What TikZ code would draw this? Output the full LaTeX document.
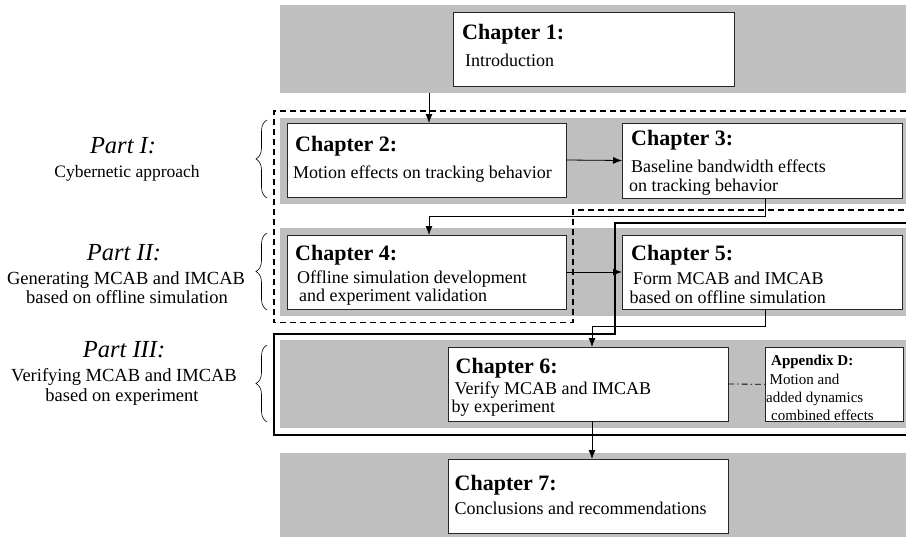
\documentclass[tikz,border=0pt]{standalone}
\usepackage{fontspec}
\setmainfont{Liberation Serif}
\usetikzlibrary{arrows.meta,decorations.pathreplacing,calc}
\definecolor{bandgray}{RGB}{191,191,191}
\begin{document}
\begin{tikzpicture}[x=1pt,y=-1pt,
  band/.style={fill=bandgray, draw=none, anchor=north west, inner sep=0pt, outer sep=0pt},
  chap/.style={draw=black!85, line width=0.9pt, fill=white, anchor=north west, inner sep=0pt, outer sep=0pt},
  head/.style={anchor=base west, inner sep=0pt, font=\fontsize{22}{24}\selectfont\bfseries},
  body/.style={anchor=base west, inner sep=0pt, font=\fontsize{18}{20}\selectfont},
  apphead/.style={anchor=base west, inner sep=0pt, font=\fontsize{15}{17}\selectfont\bfseries},
  appbody/.style={anchor=base west, inner sep=0pt, font=\fontsize{15}{17}\selectfont},
  parttitle/.style={anchor=base, inner sep=0pt, font=\fontsize{24.5}{26}\selectfont\itshape},
  partbody/.style={anchor=base, inner sep=0pt, font=\fontsize{18.5}{20}\selectfont},
  partsmall/.style={anchor=base, inner sep=0pt, font=\fontsize{17.5}{19}\selectfont},
  arr/.style={line width=0.8pt, -{Latex[length=9pt,width=7pt]}},
  dashregion/.style={line width=1.2pt, dash pattern=on 6pt off 4pt},
  thickregion/.style={line width=2pt},
  dashdotline/.style={line width=0.8pt, dash pattern=on 6pt off 3pt on 1.5pt off 3pt},
  bracestyle/.style={line width=0.6pt, decorate, decoration={brace, amplitude=11pt}}
]
\useasboundingbox (0,0) rectangle (906,541);

% bands
\node[band, minimum width=626pt, minimum height=87.7pt] (band1) at (280,5) {};
\node[band, minimum width=626pt, minimum height=86pt] (band2) at (280,118) {};
\node[band, minimum width=626pt, minimum height=88pt] (band3) at (280,228) {};
\node[band, minimum width=626pt, minimum height=88pt] (band4) at (280,340) {};
\node[band, minimum width=626pt, minimum height=84pt] (band5) at (280,453) {};

% region outlines
\coordinate (dA) at (906,111);
\coordinate (dB) at (274,111);
\coordinate (dC) at (274,322.7);
\coordinate (dD) at (573,322.7);
\coordinate (dE) at (573,210);
\coordinate (dF) at (906,210);
\draw[dashregion] (dA) -- (dB) -- (dC) -- (dD) -- (dE) -- (dF);
\coordinate (kA) at (906,222.7);
\coordinate (kB) at (615,222.7);
\coordinate (kC) at (615,334.3);
\coordinate (kD) at (274,334.3);
\coordinate (kE) at (274,435);
\coordinate (kF) at (906,435);
\draw[thickregion] (kA) -- (kB) -- (kC) -- (kD) -- (kE) -- (kF);

% chapter boxes
\node[chap, minimum width=281pt, minimum height=74pt] (ch1) at (453,12) {};
\node[chap, minimum width=279pt, minimum height=74pt] (ch2) at (287,123) {};
\node[chap, minimum width=280pt, minimum height=75pt] (ch3) at (622,123) {};
\node[chap, minimum width=279pt, minimum height=74pt] (ch4) at (287,235) {};
\node[chap, minimum width=280pt, minimum height=74pt] (ch5) at (622,235) {};
\node[chap, minimum width=280pt, minimum height=74pt] (ch6) at (448,347) {};
\node[chap, minimum width=138pt, minimum height=74.5pt] (app) at (765,347) {};
\node[chap, minimum width=280pt, minimum height=74pt] (ch7) at (448,459) {};

% texts
\node[head] (t1h) at (462,39) {Chapter 1:};
\node[body] (t1a) at (465,66) {Introduction};
\node[head] (t2h) at (295,151) {Chapter 2:};
\node[body] (t2a) at (293,178) {Motion effects on tracking behavior};
\node[head] (t3h) at (631,145) {Chapter 3:};
\node[body] (t3a) at (631,172.5) {Baseline bandwidth effects};
\node[body] (t3b) at (629,191) {on tracking behavior};
\node[head] (t4h) at (295,260) {Chapter 4:};
\node[body] (t4a) at (297,283) {Offline simulation development};
\node[body] (t4b) at (299,301.5) {and experiment validation};
\node[head] (t5h) at (631,260) {Chapter 5:};
\node[body] (t5a) at (633,284.5) {Form MCAB and IMCAB};
\node[body] (t5b) at (629.5,303) {based on offline simulation};
\node[head] (t6h) at (455.5,373) {Chapter 6:};
\node[body] (t6a) at (454.5,394) {Verify MCAB and IMCAB};
\node[body] (t6b) at (451.5,412) {by experiment};
\node[apphead] (tdh) at (771,365) {Appendix D:};
\node[appbody] (tda) at (769.5,384) {Motion and};
\node[appbody] (tdb) at (766,402) {added dynamics};
\node[appbody] (tdc) at (771,420) {combined effects};
\node[head] (t7h) at (454.5,490.5) {Chapter 7:};
\node[body] (t7a) at (454.5,514) {Conclusions and recommendations};

% part labels
\node[parttitle] (p1t) at (123,153) {Part I:};
\node[partsmall] (p1a) at (127,177) {Cybernetic approach};
\node[parttitle] (p2t) at (124,260) {Part II:};
\node[partbody] (p2a) at (126,284) {Generating MCAB and IMCAB};
\node[partbody] (p2b) at (127,303) {based on offline simulation};
\node[parttitle] (p3t) at (124,357) {Part III:};
\node[partbody] (p3a) at (124,381) {Verifying MCAB and IMCAB};
\node[partbody] (p3b) at (122,401) {based on experiment};

% braces
\coordinate (b1s) at (267,198);
\coordinate (b1e) at (267,120);
\coordinate (b2s) at (267,310);
\coordinate (b2e) at (267,233);
\coordinate (b3s) at (267,422);
\coordinate (b3e) at (267,345);
\draw[bracestyle] (b1s) -- (b1e);
\draw[bracestyle] (b2s) -- (b2e);
\draw[bracestyle] (b3s) -- (b3e);

% connectors
\coordinate (xa) at (429,0);
\coordinate (xb) at (592,0);
\coordinate (xc) at (765,0);
\draw[arr] (band1.south -| xa) -- (ch2.north -| xa);
\draw[arr] (ch2.east) -- (ch3.west);
\draw[arr] (ch3.south -| xc) -- ++(0,18.5) -| (ch4.north -| xa);
\draw[arr] (ch4.east) -- (ch5.west);
\draw[arr] (ch5.south -| xc) -- ++(0,17) -| (ch6.north -| xb);
\draw[arr] (ch6.south -| xb) -- (ch7.north -| xb);
\draw[dashdotline] (ch6.east) -- (app.west);
\end{tikzpicture}
\end{document}
